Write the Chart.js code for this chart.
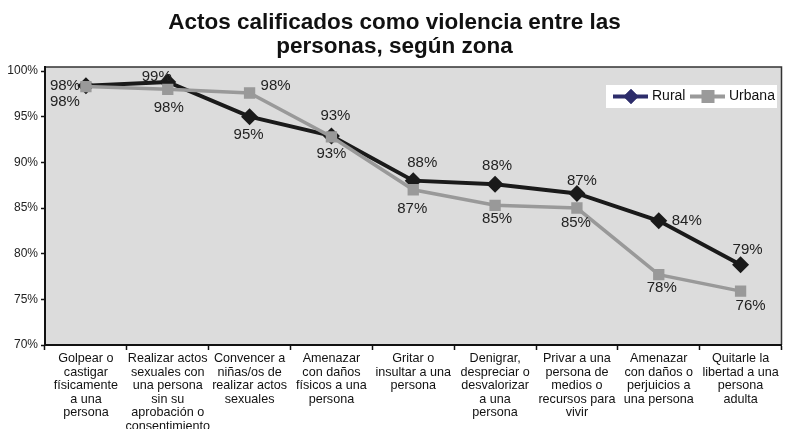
<!DOCTYPE html>
<html>
<head>
<meta charset="utf-8">
<script src="https://cdn.jsdelivr.net/npm/chart.js@4/dist/chart.umd.min.js"></script>
<style>
  html, body { margin: 0; padding: 0; background: #fff; }
  #wrap { width: 790px; height: 429px; }
</style>
</head>
<body>
<div id="wrap"><canvas id="myChart" width="790" height="429"></canvas></div>
<script>
// datos
const categorias = [
    ['Golpear o', 'castigar', 'físicamente', 'a una', 'persona'],
    ['Realizar actos', 'sexuales con', 'una persona', 'sin su', 'aprobación o', 'consentimiento'],
    ['Convencer a', 'niñas/os de', 'realizar actos', 'sexuales'],
    ['Amenazar', 'con daños', 'físicos a una', 'persona'],
    ['Gritar o', 'insultar a una', 'persona'],
    ['Denigrar,', 'despreciar o', 'desvalorizar', 'a una', 'persona'],
    ['Privar a una', 'persona de', 'medios o', 'recursos para', 'vivir'],
    ['Amenazar', 'con daños o', 'perjuicios a', 'una persona'],
    ['Quitarle la', 'libertad a una', 'persona', 'adulta']
];
const rural = [98.4, 98.8, 95.0, 92.9, 88.0, 87.6, 86.6, 83.6, 78.8];
const urbana = [98.3, 98.0, 97.6, 92.8, 87.0, 85.3, 85.0, 77.7, 75.9];
const yTicks = [70, 75, 80, 85, 90, 95, 100];

// donde va cada etiqueta respecto al punto [dx, dy]
const labelOffsets = {
    rural:  [[-21, 0], [-11, -5], [-1, 18], [4, -20], [9, -18], [2, -18], [5, -13], [28, 0], [7, -15]],
    urbana: [[-21, 15], [1, 19], [26, -7], [0, 17], [-1, 19], [2, 14], [-1, 15], [3, 13], [10, 15]]
};

const FONT = '"Liberation Sans", Arial, sans-serif';

// fondo gris y borde del area
const plotBg = {
    id: 'plotBg',
    beforeDraw(chart) {
        const {ctx, chartArea: a} = chart;
        ctx.save();
        ctx.fillStyle = '#dcdcdc';
        ctx.fillRect(a.left, a.top, a.right - a.left, a.bottom - a.top);
        ctx.strokeStyle = '#333';
        ctx.lineWidth = 1.5;
        ctx.beginPath();
        ctx.moveTo(a.left, a.top);
        ctx.lineTo(a.right, a.top);
        ctx.lineTo(a.right, a.bottom);
        ctx.stroke();
        ctx.restore();
    }
};

// etiquetas de porcentaje
const pointLabels = {
    id: 'pointLabels',
    afterDatasetsDraw(chart) {
        const {ctx} = chart;
        ctx.save();
        ctx.font = '15px ' + FONT;
        ctx.fillStyle = '#222';
        ctx.textAlign = 'center';
        ctx.textBaseline = 'middle';
        chart.data.datasets.forEach((ds, i) => {
            const meta = chart.getDatasetMeta(i);
            const offs = labelOffsets[ds.key];
            meta.data.forEach((pt, j) => {
                const txt = Math.round(ds.data[j]) + '%';
                ctx.fillText(txt, pt.x + offs[j][0], pt.y + offs[j][1]);
            });
        });
        ctx.restore();
    }
};

// leyenda en caja blanca
const boxLegend = {
    id: 'boxLegend',
    afterDraw(chart) {
        const {ctx} = chart;
        const x = 606, y = 85, w = 171, h = 23, cy = y + h / 2;
        ctx.save();
        ctx.fillStyle = '#fff';
        ctx.fillRect(x, y, w, h);

        // rural
        ctx.strokeStyle = '#2d2d6b';
        ctx.lineWidth = 4;
        ctx.beginPath(); ctx.moveTo(613, cy); ctx.lineTo(648, cy); ctx.stroke();
        ctx.fillStyle = '#2d2d6b';
        Chart.helpers.drawPoint(ctx, {pointStyle: 'rectRot', radius: 7.5, borderWidth: 0}, 631, cy);
        ctx.fill();

        // urbana
        ctx.strokeStyle = '#9a9a9a';
        ctx.lineWidth = 4;
        ctx.beginPath(); ctx.moveTo(690, cy); ctx.lineTo(725, cy); ctx.stroke();
        ctx.fillStyle = '#9a9a9a';
        ctx.fillRect(701.5, cy - 6.5, 13, 13);

        ctx.fillStyle = '#111';
        ctx.font = '14px ' + FONT;
        ctx.textBaseline = 'middle';
        ctx.textAlign = 'left';
        ctx.fillText('Rural', 652, cy);
        ctx.fillText('Urbana', 729, cy);
        ctx.restore();
    }
};

const ctx = document.getElementById('myChart');
const myChart = new Chart(ctx, {
    type: 'line',
    data: {
        labels: categorias,
        datasets: [
            {
                key: 'rural',
                label: 'Rural',
                data: rural,
                borderColor: '#1a1a1a',
                backgroundColor: '#1a1a1a',
                borderWidth: 4,
                pointStyle: 'rectRot',
                pointRadius: 8.5,
                pointBorderWidth: 0,
                order: 1
            },
            {
                key: 'urbana',
                label: 'Urbana',
                data: urbana,
                borderColor: '#999999',
                backgroundColor: '#999999',
                borderWidth: 3.5,
                pointStyle: 'rect',
                pointRadius: 8,
                pointBorderWidth: 0,
                order: 0
            }
        ]
    },
    options: {
        responsive: false,
        animation: false,
        layout: { padding: { left: 0, right: 1, top: 0, bottom: 0 } },
        plugins: {
            legend: { display: false },
            tooltip: { enabled: false },
            title: {
                display: true,
                text: ['Actos calificados como violencia entre las', 'personas, según zona'],
                color: '#111',
                font: { family: FONT, size: 22.5, weight: 'bold', lineHeight: 1.05 },
                padding: { top: 11, bottom: 8.7 }
            }
        },
        scales: {
            x: {
                offset: true,
                grid: {
                    offset: true,
                    drawOnChartArea: false,
                    drawTicks: true,
                    tickLength: 5,
                    color: '#111',
                    tickWidth: 1.5
                },
                border: { color: '#111', width: 2 },
                ticks: {
                    color: '#111',
                    padding: 2,
                    autoSkip: false,
                    maxRotation: 0,
                    font: { family: FONT, size: 12.6, lineHeight: 1.07 }
                },
                afterFit(scale) { scale.height = 84; }
            },
            y: {
                min: 70,
                max: 100.45,
                grid: {
                    drawOnChartArea: false,
                    drawTicks: true,
                    tickLength: 4,
                    color: '#111',
                    tickWidth: 1.5
                },
                border: { color: '#111', width: 2 },
                afterBuildTicks(scale) {
                    scale.ticks = yTicks.map(v => ({ value: v }));
                },
                ticks: {
                    color: '#222',
                    padding: 3,
                    font: { family: FONT, size: 12 },
                    callback: v => v + '%'
                },
                afterFit(scale) { scale.width = 45; }
            }
        }
    },
    plugins: [plotBg, pointLabels, boxLegend]
});
</script>
</body>
</html>
